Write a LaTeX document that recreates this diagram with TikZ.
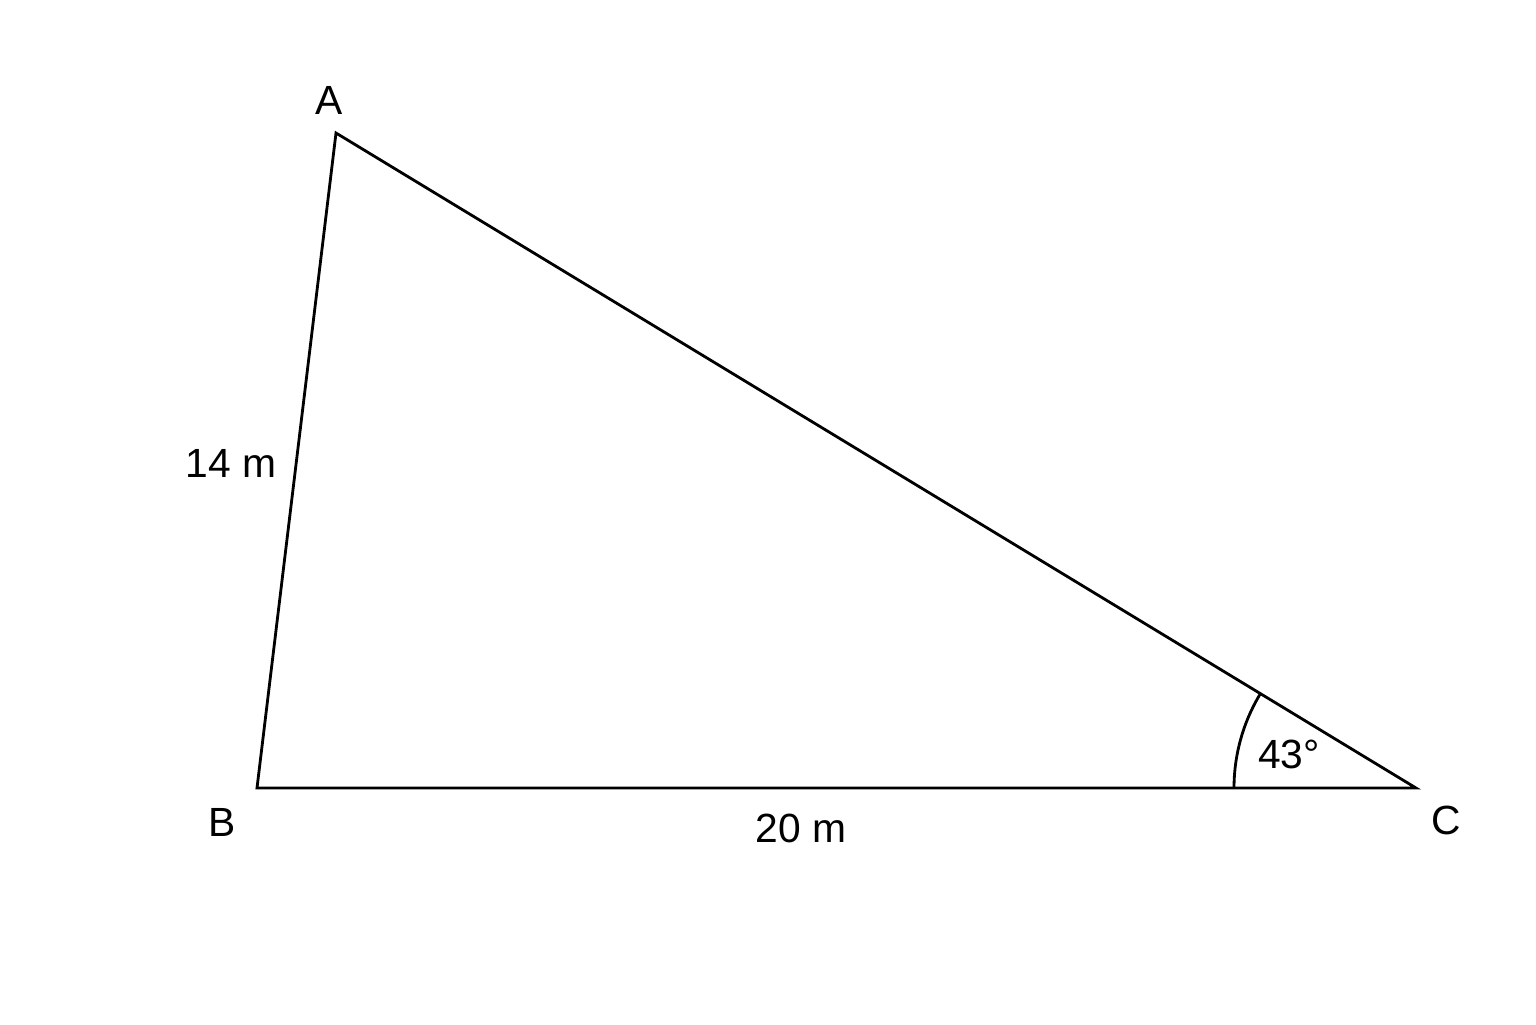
\documentclass[tikz,border=0pt]{standalone}
\usepackage{fontspec}
\setmainfont{Liberation Sans}
\usetikzlibrary{calc}
\tikzset{
    lato/.style={line width=0.8pt},
    etichetta/.style={font=\fontsize{11.6}{14}\selectfont, inner sep=0pt}
}
\begin{document}
\begin{tikzpicture}
    \useasboundingbox (0,0) rectangle (15.36,10.24);

    % Vertici
    \coordinate (A) at (3.36,8.91);
    \coordinate (B) at (2.57,2.36);
    \coordinate (C) at (14.16,2.36);

    % Triangolo
    \draw[lato, line join=miter] (A) -- (B) -- (C) -- cycle;

    % Angolo in C
    \draw[lato] ($(C)+(-1.82,0)$) arc[start angle=180, end angle=148.8, radius=1.82];

    \node[etichetta] (lA) at (3.29,9.24) {A};
    \node[etichetta] (lB) at (2.22,2.02) {B};
    \node[etichetta] (lC) at (14.46,2.04) {C};

    \node[etichetta] (lAB) at (2.31,5.61) {14 m};
    \node[etichetta] (lBC) at (8.01,1.96) {20 m};
    \node[etichetta] (lang) at (12.89,2.70) {43°};
\end{tikzpicture}
\end{document}
